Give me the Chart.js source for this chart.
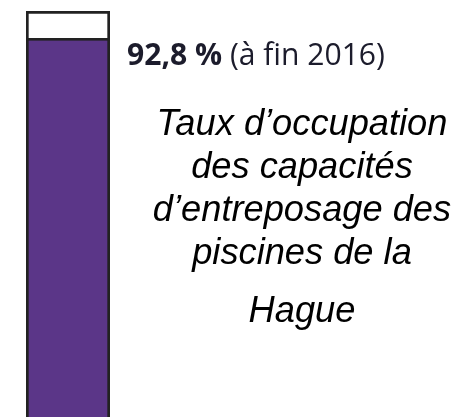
<!DOCTYPE html>
<html>
<head>
<meta charset="utf-8">
<script src="https://cdn.jsdelivr.net/npm/chart.js@4.4.0/dist/chart.umd.min.js"></script>
<style>
  html, body { margin: 0; padding: 0; background: #fff; }
  body { width: 459px; height: 417px; overflow: hidden; position: relative; }
  #wrap { position: absolute; left: 0; top: 0; width: 459px; height: 422px; }
  .txt { position: absolute; white-space: nowrap; line-height: 1; }
  .value { font-family: "Open Sans", Lato, sans-serif; font-size: 27px; color: #1c1c2c; }
  .value b { font-weight: 700; }
  .caption { font-family: "Liberation Sans", Arial, sans-serif; font-style: italic;
             font-size: 36px; color: #000; }
</style>
</head>
<body>
<div id="wrap"><canvas id="chart"></canvas></div>
<div id="texts"></div>

<script>
// data
const categories = ['La Hague'];
const occupied = [92.8];
const free = [7.2];
const valueLabel = ['92,8 %', ' (à fin 2016)'];
const captionLines = ['Taux d\u2019occupation', 'des capacités', 'd\u2019entreposage des', 'piscines de la', 'Hague'];
const captionBaselines = [136, 179, 222, 265, 323];

const texts = document.getElementById('texts');

// value label next to the bar top
const val = document.createElement('div');
val.className = 'txt value';
val.innerHTML = '<b>' + valueLabel[0] + '</b>' + valueLabel[1];
texts.appendChild(val);
{
  const w = val.getBoundingClientRect().width;
  const fs = 27 * 258 / w;
  val.style.fontSize = fs + 'px';
  val.style.left = '127px';
  val.style.top = (66 - 0.888 * fs) + 'px';
}

// caption, centred on x = 302
let capSize = 36;
captionLines.forEach((line, i) => {
  const d = document.createElement('div');
  d.className = 'txt caption';
  d.textContent = line;
  texts.appendChild(d);
  if (i === 0) {
    capSize = 36 * 291 / d.getBoundingClientRect().width;
  }
  d.style.fontSize = capSize + 'px';
  const w = d.getBoundingClientRect().width;
  d.style.left = (302 - w / 2) + 'px';
  d.style.top = (captionBaselines[i] - 0.8465 * capSize) + 'px';
});

const canvas = document.getElementById('chart');
canvas.width = 459;
canvas.height = 422;

new Chart(canvas.getContext('2d'), {
  type: 'bar',
  data: {
    labels: categories,
    datasets: [
      {
        label: 'occupé',
        data: occupied,
        backgroundColor: '#5b3688',
        borderColor: '#222222',
        borderWidth: { top: 0, left: 3, right: 3, bottom: 3 },
        borderSkipped: false,
        barPercentage: 1,
        categoryPercentage: 1,
      },
      {
        label: 'libre',
        data: free,
        backgroundColor: '#ffffff',
        borderColor: '#222222',
        borderWidth: 3,
        borderSkipped: false,
        barPercentage: 1,
        categoryPercentage: 1,
      },
    ],
  },
  options: {
    responsive: false,
    animation: false,
    layout: { padding: { left: 26, right: 349, top: 11, bottom: 0 } },
    scales: {
      x: { stacked: true, display: false },
      y: { stacked: true, display: false, min: 0, max: 100 },
    },
    plugins: {
      legend: { display: false },
      tooltip: { enabled: false },
    },
  },
});
</script>
</body>
</html>
